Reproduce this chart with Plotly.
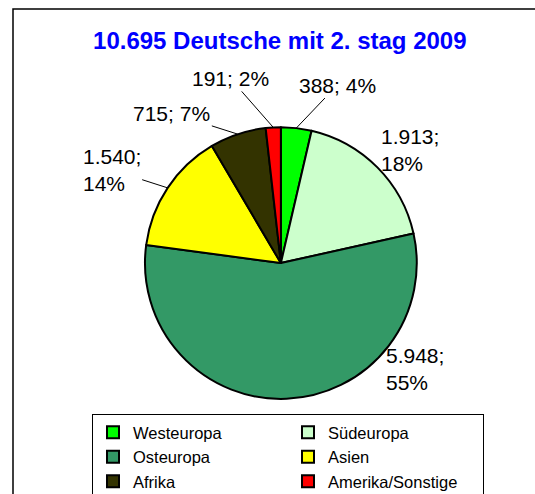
import math
import plotly.graph_objects as go

# Daten
regionen = ["Westeuropa", "Südeuropa", "Osteuropa", "Asien", "Afrika", "Amerika/Sonstige"]
anzahl = [388, 1913, 5948, 1540, 715, 191]
prozent = [4, 18, 55, 14, 7, 2]
farben = ["#00FF00", "#CCFFCC", "#339966", "#FFFF00", "#333300", "#FF0000"]

titel = "10.695 Deutsche mit 2. stag 2009"
schrift = "Liberation Sans, Arial"

B, H = 535, 494
dom_x = [0.271, 0.779]
dom_y = [0.192, 0.743]

# Lage der Beschriftungen (Pixelversatz zum Kreisrand) und Führungslinien
versatz = [(41, -43), (33, -17), (128, -30), (-56, -18), (-66, -21), (-43, -49)]
linie = [True, False, False, True, True, True]

fig = go.Figure(go.Pie(
    labels=regionen,
    values=anzahl,
    textinfo="none",
    marker=dict(colors=farben, line=dict(color="black", width=2)),
    sort=False,
    direction="clockwise",
    rotation=0,
    domain=dict(x=dom_x, y=dom_y),
))

# Kreisgeometrie aus der Domain
cx = (dom_x[0] + dom_x[1]) / 2 * B
cy = (1 - (dom_y[0] + dom_y[1]) / 2) * H
r = min((dom_x[1] - dom_x[0]) * B, (dom_y[1] - dom_y[0]) * H) / 2

summe = sum(anzahl)
start = 0
for n, p, (ax, ay), mit_linie in zip(anzahl, prozent, versatz, linie):
    mitte = (start + n / 2) / summe * 2 * math.pi
    start += n
    px = cx + r * math.sin(mitte)
    py = cy - r * math.cos(mitte)
    wert = f"{n:,}".replace(",", ".")
    text = f"{wert};<br>{p}%" if n >= 1000 else f"{wert}; {p}%"
    fig.add_annotation(
        text=text, xref="paper", yref="paper", x=px / B, y=1 - py / H,
        ax=ax, ay=ay, showarrow=True, arrowhead=0, arrowwidth=1, standoff=0,
        arrowcolor="black" if mit_linie else "rgba(0,0,0,0)",
        align="left", font=dict(family=schrift, size=21, color="black"),
    )

fig.update_layout(
    width=B, height=H,
    margin=dict(l=0, r=0, t=0, b=0, autoexpand=False),
    paper_bgcolor="white",
    plot_bgcolor="white",
    font=dict(family=schrift, color="black"),
    title=dict(text="<b>" + titel + "</b>", x=0.523, xanchor="center",
               y=1 - 41 / H, yanchor="middle",
               font=dict(size=24, color="#0000FF")),
    showlegend=True,
    legend=dict(orientation="h",
                x=92 / B, xanchor="left", y=1 - 414 / H, yanchor="top",
                entrywidth=150, traceorder="normal", itemwidth=30,
                font=dict(size=16.5), bordercolor="black", borderwidth=1,
                bgcolor="white"),
    shapes=[dict(type="rect", xref="paper", yref="paper",
                 x0=13 / B, x1=1.01, y0=-0.01, y1=1 - 9 / H,
                 line=dict(color="black", width=1.5))],
)

# Standard-Seitenrand des Browsers entfernen, damit die Grafik bei (0,0) beginnt
fig.write_html("out.html", config={"displayModeBar": False},
               post_script="document.body.style.margin = '0';")
